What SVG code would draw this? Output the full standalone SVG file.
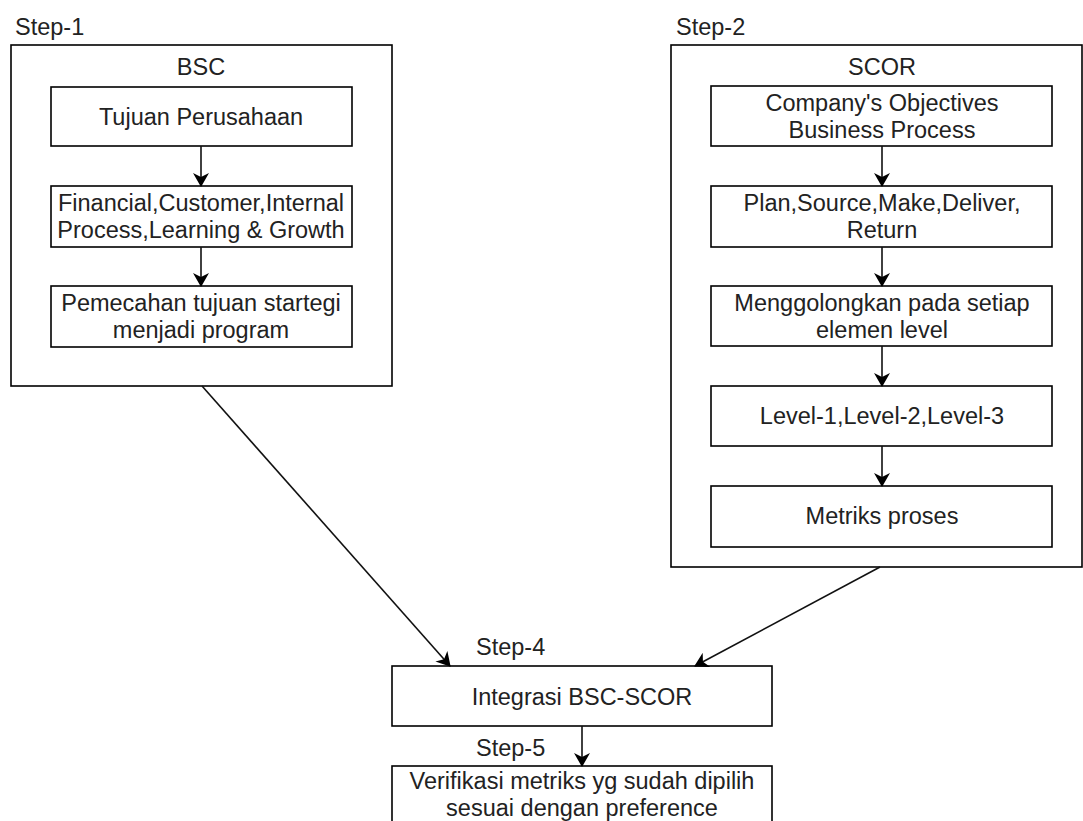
<svg xmlns="http://www.w3.org/2000/svg" width="1083" height="821" viewBox="0 0 1083 821">
<defs>
<style>
.box{fill:#fff;stroke:#000;stroke-width:1.6}
.t{font-family:"Liberation Sans",Arial,sans-serif;font-size:23.5px;fill:#222;text-anchor:middle}
.l{font-family:"Liberation Sans",Arial,sans-serif;font-size:23.5px;fill:#222}
.c{stroke:#111;stroke-width:1.6;fill:none;marker-end:url(#arr)}
</style>
<marker id="arr" markerUnits="userSpaceOnUse" viewBox="0 0 14 16" markerWidth="14" markerHeight="16" refX="13" refY="8" orient="auto">
<path d="M0,0 L14,8 L0,16 L4,8 Z" fill="#000"/>
</marker>
</defs>
<rect width="1083" height="821" fill="#fff"/>

<g id="step1">
<text class="l" x="15" y="35">Step-1</text>
<rect class="box" x="11" y="45" width="381" height="341"/>
<text class="t" x="201" y="75">BSC</text>
</g>
<g id="bsc1">
<rect class="box" x="51" y="87" width="301" height="59"/>
<text class="t" x="201" y="125">Tujuan Perusahaan</text>
</g>
<g id="bsc2">
<rect class="box" x="51" y="186" width="301" height="61"/>
<text class="t" x="201" y="211">Financial,Customer,Internal</text>
<text class="t" x="201" y="238">Process,Learning &amp; Growth</text>
</g>
<g id="bsc3">
<rect class="box" x="51" y="286" width="301" height="61"/>
<text class="t" x="201" y="311">Pemecahan tujuan startegi</text>
<text class="t" x="201" y="338">menjadi program</text>
</g>

<g id="step2">
<text class="l" x="676" y="35">Step-2</text>
<rect class="box" x="671" y="45" width="411" height="522"/>
<text class="t" x="882" y="75">SCOR</text>
</g>
<g id="scor1">
<rect class="box" x="711" y="86" width="341" height="60"/>
<text class="t" x="882" y="111">Company's Objectives</text>
<text class="t" x="882" y="138">Business Process</text>
</g>
<g id="scor2">
<rect class="box" x="711" y="186" width="341" height="61"/>
<text class="t" x="882" y="211">Plan,Source,Make,Deliver,</text>
<text class="t" x="882" y="238">Return</text>
</g>
<g id="scor3">
<rect class="box" x="711" y="286" width="341" height="60"/>
<text class="t" x="882" y="311">Menggolongkan pada setiap</text>
<text class="t" x="882" y="338">elemen level</text>
</g>
<g id="scor4">
<rect class="box" x="711" y="386" width="341" height="60"/>
<text class="t" x="882" y="424">Level-1,Level-2,Level-3</text>
</g>
<g id="scor5">
<rect class="box" x="711" y="486" width="341" height="61"/>
<text class="t" x="882" y="524">Metriks proses</text>
</g>

<g id="step4">
<text class="l" x="476" y="655">Step-4</text>
<rect class="box" x="392" y="666" width="380" height="60"/>
<text class="t" x="582" y="705">Integrasi BSC-SCOR</text>
</g>
<g id="step5">
<text class="l" x="476" y="756">Step-5</text>
<rect class="box" x="392" y="766" width="380" height="70"/>
<text class="t" x="582" y="789">Verifikasi metriks yg sudah dipilih</text>
<text class="t" x="582" y="816">sesuai dengan preference</text>
</g>

<g id="connectors">
<line class="c" x1="201" y1="146" x2="201" y2="186"/>
<line class="c" x1="201" y1="247" x2="201" y2="286"/>
<line class="c" x1="882" y1="146" x2="882" y2="186"/>
<line class="c" x1="882" y1="247" x2="882" y2="286"/>
<line class="c" x1="882" y1="346" x2="882" y2="386"/>
<line class="c" x1="882" y1="446" x2="882" y2="486"/>
<line class="c" x1="202" y1="386" x2="450" y2="666"/>
<line class="c" x1="880" y1="567" x2="695" y2="666"/>
<line class="c" x1="582" y1="726" x2="582" y2="766"/>
</g>
</svg>
